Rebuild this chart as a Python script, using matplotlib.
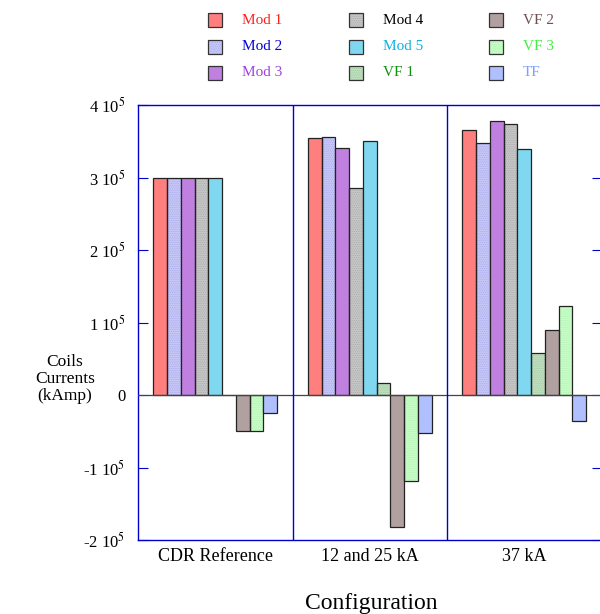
import numpy as np
import matplotlib
matplotlib.use("Agg")
import matplotlib.pyplot as plt
from matplotlib.patches import Rectangle

plt.rcParams['font.family'] = ['Liberation Serif', 'DejaVu Serif']
plt.rcParams['mathtext.fontset'] = 'stix'
plt.rcParams['hatch.linewidth'] = 0.5

# coil currents, one list per configuration (order = coils)
configs = ['CDR Reference', '12 and 25 kA', '37 kA']
coils = ['Mod 1', 'Mod 2', 'Mod 3', 'Mod 4', 'Mod 5', 'VF 1', 'VF 2', 'VF 3', 'TF']
cdr_ref = [3.0e5, 3.0e5, 3.0e5, 3.0e5, 3.0e5, 0.0, -0.5e5, -0.5e5, -0.25e5]
ka_12_25 = [3.55e5, 3.56e5, 3.41e5, 2.85e5, 3.51e5, 0.16e5, -1.82e5, -1.19e5, -0.52e5]
ka_37 = [3.65e5, 3.47e5, 3.78e5, 3.74e5, 3.40e5, 0.575e5, 0.89e5, 1.23e5, -0.36e5]

fills = ['#ff7f7f', '#c8c8f8', '#c080e0', '#c8c8c8', '#80d8f0',
         '#c0e0c0', '#b0a0a0', '#c8ffc8', '#b0c0ff']
hatches = [None, '#a8a8ec', None, '#a8a8a8', None, '#a0c8a0', None, '#b0eeb0', None]
text_cols = ['#ff2020', '#0000e0', '#a040e0', '#000000', '#10b0e0',
             '#109010', '#705050', '#40f040', '#80a0ff']
HATCH = '.........'

fig = plt.figure(figsize=(6.0, 6.14), dpi=100)
ax = fig.add_axes([138/600, 1 - 540/614, 463.5/600, 435/614])

data = np.array([cdr_ref, ka_12_25, ka_37])
w = 0.089
x = np.arange(len(configs))
for j in range(len(coils)):
    pos = x - 4 * w + j * w
    if hatches[j]:
        ax.bar(pos, data[:, j], w, color=fills[j], edgecolor=hatches[j],
               hatch=HATCH, linewidth=0, zorder=2)
        ax.bar(pos, data[:, j], w, fill=False, edgecolor='#222222',
               linewidth=0.9, zorder=3)
    else:
        ax.bar(pos, data[:, j], w, color=fills[j], edgecolor='#222222',
               linewidth=0.9, zorder=3)

ax.axhline(0, color='#444444', lw=0.9, zorder=4)
for xd in [0.5, 1.5]:
    ax.axvline(xd, color='#0000cc', lw=1.0, zorder=5)

ax.set_xlim(-0.5, 2.5)
ax.set_ylim(-2e5, 4e5)
ax.set_xticks(x)
ax.set_xticklabels(configs, fontsize=13)
ax.tick_params(axis='x', length=0, pad=6)
yt = np.arange(-2, 5) * 1e5
ax.set_yticks(yt)
ax.set_yticklabels([('0' if v == 0 else r'%d 10$^5$' % v) for v in range(-2, 5)],
                   fontsize=12)
ax.tick_params(axis='y', direction='in', length=7, color='#0000cc',
               right=True, pad=9)
for s in ax.spines.values():
    s.set_color('#0000cc')
    s.set_linewidth(1.0)

fig.text(65/600, 1 - 379/614, 'Coils\nCurrents\n(kAmp)', ha='center', va='center',
         fontsize=12.5, linespacing=1.1)
fig.text(371/600, 1 - 604/614, 'Configuration', ha='center', va='center', fontsize=17)

# legend built by hand, 3 columns x 3 rows
col_px = [215, 356, 496]
row_px = [20, 47, 73]
for j, name in enumerate(coils):
    cx = col_px[j // 3]
    cy = row_px[j % 3]
    px0, py0 = (cx - 7) / 600, 1 - (cy + 7) / 614
    if hatches[j]:
        fig.patches.append(Rectangle((px0, py0), 14 / 600, 14 / 614,
                                     transform=fig.transFigure, facecolor=fills[j],
                                     edgecolor=hatches[j], lw=0, hatch=HATCH))
    fig.patches.append(Rectangle((px0, py0), 14 / 600, 14 / 614,
                                 transform=fig.transFigure,
                                 facecolor='none' if hatches[j] else fills[j],
                                 edgecolor='#333333', lw=0.9))
    fig.text((cx + 27) / 600, 1 - cy / 614, name, color=text_cols[j],
             ha='left', va='center', fontsize=11)

fig.savefig('out.png', dpi=100)
